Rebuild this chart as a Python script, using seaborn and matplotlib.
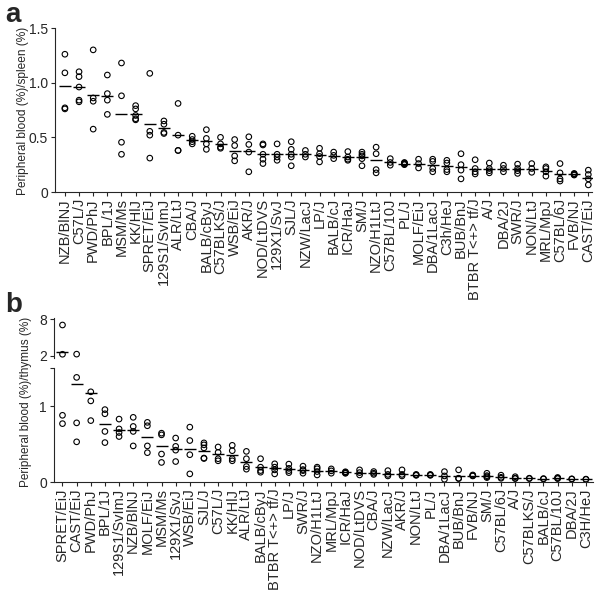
import numpy as np
import pandas as pd
import matplotlib
matplotlib.use("Agg")
import matplotlib.pyplot as plt
import seaborn as sns

sns.set_style("ticks")
plt.rcParams['font.family'] = ['Liberation Sans', 'DejaVu Sans']

# ---------------- Panel a: peripheral blood / spleen ----------------
a_strains = ["NZB/BlNJ", "C57L/J", "PWD/PhJ", "BPL/1J", "MSM/Ms", "KK/HlJ",
             "SPRET/EiJ", "129S1/SvImJ", "ALR/LtJ", "CBA/J", "BALB/cByJ",
             "C57BLKS/J", "WSB/EiJ", "AKR/J", "NOD/LtDVS", "129X1/SvJ", "SJL/J",
             "NZW/LacJ", "LP/J", "BALB/cJ", "ICR/HaJ", "SM/J", "NZO/H1LtJ",
             "C57BL/10J", "PL/J", "MOLF/EiJ", "DBA/1LacJ", "C3h/HeJ", "BUB/BnJ",
             "BTBR T<+> tf/J", "A/J", "DBA/2J", "SWR/J", "NON/LtJ", "MRL/MpJ",
             "C57BL/6J", "FVB/NJ", "CAST/EiJ"]
a_values = [
    [1.26, 1.09, 0.77, 0.76],
    [1.10, 1.055, 0.96, 0.84, 0.825],
    [1.30, 0.86, 0.83, 0.575],
    [1.07, 0.90, 0.84, 0.71],
    [1.18, 0.88, 0.455, 0.345],
    [0.79, 0.76, 0.70, 0.67, 0.66],
    [1.085, 0.555, 0.52, 0.31],
    [0.65, 0.62, 0.545, 0.535],
    [0.81, 0.52, 0.38, 0.38],
    [0.51, 0.48, 0.46, 0.44],
    [0.57, 0.49, 0.44, 0.39],
    [0.50, 0.44, 0.41, 0.40],
    [0.48, 0.425, 0.33, 0.285],
    [0.505, 0.435, 0.365, 0.185],
    [0.44, 0.43, 0.345, 0.30, 0.26],
    [0.44, 0.345, 0.32, 0.29],
    [0.46, 0.39, 0.345, 0.32, 0.24],
    [0.38, 0.345, 0.32],
    [0.40, 0.35, 0.325, 0.275],
    [0.365, 0.335, 0.305],
    [0.37, 0.32, 0.30, 0.29],
    [0.365, 0.345, 0.33, 0.305, 0.24],
    [0.41, 0.35, 0.205, 0.175],
    [0.305, 0.27, 0.245],
    [0.27, 0.265, 0.26, 0.255, 0.25],
    [0.30, 0.26, 0.22],
    [0.30, 0.28, 0.215, 0.185],
    [0.29, 0.265, 0.205, 0.185],
    [0.35, 0.25, 0.20, 0.12],
    [0.295, 0.215, 0.185, 0.165],
    [0.265, 0.215, 0.195, 0.175],
    [0.245, 0.215, 0.185],
    [0.255, 0.215, 0.195, 0.17],
    [0.26, 0.215, 0.18],
    [0.23, 0.215, 0.185, 0.145],
    [0.26, 0.175, 0.12, 0.10],
    [0.17, 0.165, 0.16, 0.155],
    [0.20, 0.16, 0.12, 0.065],
]
a_means = [0.97, 0.957, 0.887, 0.88, 0.716, 0.71, 0.62, 0.587, 0.523, 0.474,
           0.468, 0.437, 0.376, 0.373, 0.35, 0.345, 0.35, 0.345, 0.34, 0.333,
           0.32, 0.32, 0.29, 0.27, 0.26, 0.254, 0.245, 0.24, 0.23, 0.214,
           0.214, 0.214, 0.208, 0.208, 0.193, 0.168, 0.162, 0.13]

# ---------------- Panel b: peripheral blood / thymus ----------------
b_strains = ["SPRET/EiJ", "CAST/EiJ", "PWD/PhJ", "BPL/1J", "129S1/SvImJ",
             "NZB/BlNJ", "MOLF/EiJ", "MSM/Ms", "129X1/SvJ", "WSB/EiJ", "SJL/J",
             "C57L/J", "KK/HlJ", "ALR/LtJ", "BALB/cByJ", "BTBR T<+> tf/J", "LP/J",
             "SWR/J", "NZO/H1LtJ", "MRL/MpJ", "ICR/HaJ", "NOD/LtDVS", "CBA/J",
             "NZW/LacJ", "AKR/J", "NON/LtJ", "PL/J", "DBA/1LacJ", "BUB/BnJ",
             "FVB/NJ", "SM/J", "C57BL/6J", "A/J", "C57BLKS/J", "BALB/cJ",
             "C57BL/10J", "DBA/2J", "C3H/HeJ"]
b_values = [
    [7.07, 2.28, 0.88, 0.77],
    [2.30, 1.38, 0.78, 0.53],
    [1.19, 1.07, 0.81],
    [0.955, 0.90, 0.667, 0.52],
    [0.83, 0.70, 0.653, 0.60],
    [0.853, 0.733, 0.667, 0.476],
    [0.787, 0.742, 0.476, 0.387],
    [0.644, 0.622, 0.369, 0.258],
    [0.58, 0.47, 0.42, 0.27],
    [0.724, 0.547, 0.36, 0.107],
    [0.516, 0.49, 0.45, 0.316, 0.31],
    [0.462, 0.39, 0.307, 0.28],
    [0.484, 0.413, 0.307, 0.28],
    [0.404, 0.307, 0.204, 0.169],
    [0.307, 0.196, 0.151, 0.129],
    [0.24, 0.196, 0.16, 0.107],
    [0.236, 0.18, 0.15, 0.124],
    [0.209, 0.164, 0.15, 0.116],
    [0.196, 0.175, 0.138, 0.093],
    [0.173, 0.147, 0.116],
    [0.135, 0.128, 0.12, 0.115],
    [0.16, 0.124, 0.093],
    [0.138, 0.116, 0.10],
    [0.15, 0.10, 0.08],
    [0.16, 0.10, 0.08],
    [0.10, 0.093, 0.088],
    [0.10, 0.093, 0.088],
    [0.137, 0.08, 0.036],
    [0.16, 0.05, 0.045],
    [0.093, 0.084, 0.08],
    [0.115, 0.084, 0.07, 0.058],
    [0.09, 0.062, 0.049],
    [0.07, 0.05, 0.045],
    [0.05, 0.045],
    [0.045, 0.04],
    [0.06, 0.05, 0.045],
    [0.042, 0.038],
    [0.038, 0.034],
]
b_means = [2.6, 1.29, 1.18, 0.764, 0.69, 0.68, 0.60, 0.476, 0.436, 0.436,
           0.413, 0.364, 0.35, 0.27, 0.204, 0.18, 0.169, 0.155, 0.147, 0.147,
           0.129, 0.124, 0.116, 0.107, 0.102, 0.093, 0.093, 0.08, 0.08, 0.084,
           0.08, 0.062, 0.053, 0.05, 0.04, 0.05, 0.04, 0.036]

B_BREAK = 1.5   # values above this go to the upper (compressed) segment


def to_long(strains, values):
    rows = [(s, v) for s, vs in zip(strains, values) for v in vs]
    return pd.DataFrame(rows, columns=["strain", "value"])


def draw(ax, strains, values, means, lo=-np.inf, hi=np.inf):
    df = to_long(strains, values)
    df = df[(df.value > lo) & (df.value <= hi)]
    sns.stripplot(data=df, x="strain", y="value", order=strains, jitter=False,
                  size=4.0, color="black", linewidth=0.8, ax=ax, zorder=3)
    for c in ax.collections:
        c.set_facecolor("none")
        c.set_edgecolor("black")
        c.set_linewidth(0.8)
    mdf = pd.DataFrame({"strain": strains, "value": means})
    mdf = mdf[(mdf.value > lo) & (mdf.value <= hi)]
    sns.pointplot(data=mdf, x="strain", y="value", order=strains, markers="_",
                  linestyle="none", color="black", errorbar=None,
                  markersize=8, markeredgewidth=1.0, ax=ax)
    ax.set_xlabel("")
    ax.set_ylabel("")


W, H = 601, 590
fig = plt.figure(figsize=(W / 100, H / 100), dpi=100)

# panel a
axA = fig.add_axes([55 / W, 1 - 192 / H, (592 - 55) / W, (192 - 28) / H])
draw(axA, a_strains, a_values, a_means)
axA.set_xlim(-0.7, 37.26)
axA.set_ylim(0, 1.5)
axA.set_yticks([0, 0.5, 1.0, 1.5])
axA.set_yticklabels(["0", "0.5", "1.0", "1.5"])
axA.set_xticks(range(len(a_strains)))
axA.set_xticklabels(a_strains, rotation=90)
sns.despine(ax=axA)

# panel b (broken axis): lower segment
axB = fig.add_axes([54 / W, 1 - 482 / H, (593 - 54) / W, (482 - 368.3) / H])
draw(axB, b_strains, b_values, b_means, hi=B_BREAK)
axB.set_xlim(-0.6, 37.5)
axB.set_ylim(0, 1.5)
axB.set_yticks([0, 1, 1.5])
axB.set_yticklabels(["0", "1", ""])
axB.set_xticks(range(len(b_strains)))
axB.set_xticklabels(b_strains, rotation=90)
sns.despine(ax=axB)

# upper segment
axBt = fig.add_axes([54 / W, 1 - 357.5 / H, (593 - 54) / W, (357.5 - 318.4) / H])
draw(axBt, b_strains, b_values, b_means, lo=B_BREAK)
axBt.set_xlim(-0.6, 37.5)
axBt.set_ylim(1.75, 8.15)
axBt.set_yticks([2, 8])
axBt.set_yticklabels(["2", "8"])
axBt.set_xticks([])
sns.despine(ax=axBt, bottom=True)

for ax in (axA, axB, axBt):
    for sp in ax.spines.values():
        sp.set_linewidth(0.8)
    ax.tick_params(axis="both", direction="out", length=3, width=0.8, pad=2)
    ax.tick_params(axis="x", labelsize=10.5, pad=1.5)
    ax.tick_params(axis="y", labelsize=10)
    ax.set_facecolor("none")

fig.text(23 / W, 1 - 111 / H, "Peripheral blood (%)/spleen (%)", rotation=90,
         ha="center", va="center", fontsize=8.6)
fig.text(26 / W, 1 - 402 / H, "Peripheral blood (%)/thymus (%)", rotation=90,
         ha="center", va="center", fontsize=8.5)
fig.text(5 / W, 1 - 22 / H, "a", fontsize=20, fontweight="bold", va="baseline")
fig.text(5 / W, 1 - 312 / H, "b", fontsize=20, fontweight="bold", va="baseline")

fig.savefig("out.png", dpi=100)
